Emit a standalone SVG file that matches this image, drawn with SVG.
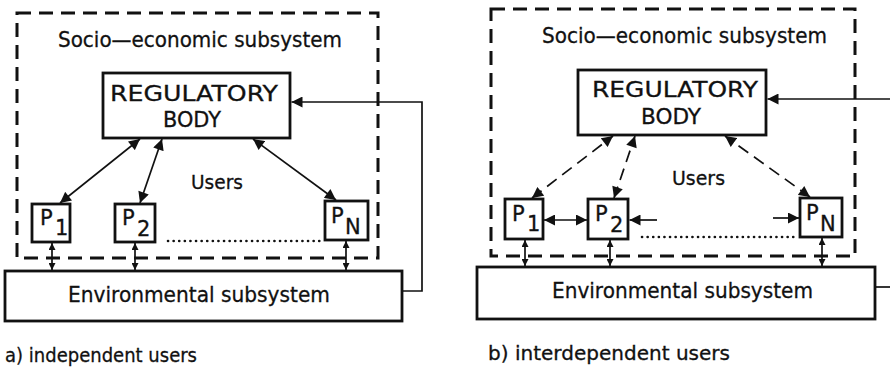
<svg xmlns="http://www.w3.org/2000/svg" width="890" height="368" viewBox="0 0 890 368">
<style>
text{font-family:"DejaVu Sans","Liberation Sans",Arial,sans-serif;fill:#111;stroke:#111;stroke-width:0.3}
.lbl{font-size:21px}
.p{font-size:21px}
.s{font-size:20px}
.box{fill:#fff;stroke:#111;stroke-width:2.8}
.dbox{fill:none;stroke:#111;stroke-width:3;stroke-dasharray:14 8}
.c{fill:none;stroke:#111;stroke-width:1.7}
.dash{stroke-dasharray:12 7}
.dot{fill:none;stroke:#111;stroke-width:2.6;stroke-dasharray:0.1 5.5;stroke-linecap:round}
</style>
<defs>
<marker id="ah" viewBox="0 0 10 10" refX="10" refY="5" markerWidth="12" markerHeight="11" markerUnits="userSpaceOnUse" orient="auto-start-reverse"><path d="M0,0 L10,5 L0,10 z" fill="#111"/></marker>
<marker id="sh" viewBox="0 0 10 10" refX="10" refY="5" markerWidth="7" markerHeight="7" markerUnits="userSpaceOnUse" orient="auto-start-reverse"><path d="M0,0 L10,5 L0,10 z" fill="#111"/></marker>
</defs>

<g id="panel-a">
<g id="a-socio"><rect class="dbox" x="17" y="13" width="361" height="245"/><text class="lbl" x="58" y="47" textLength="284" lengthAdjust="spacingAndGlyphs">Socio—economic subsystem</text></g>
<g id="a-reg"><rect class="box" x="103" y="73" width="187" height="65"/><text class="lbl" x="110" y="101" textLength="168" lengthAdjust="spacingAndGlyphs">REGULATORY</text><text class="lbl" x="163" y="127" textLength="58" lengthAdjust="spacingAndGlyphs">BODY</text></g>
<g id="a-users"><text class="s" x="191" y="189" textLength="52" lengthAdjust="spacingAndGlyphs">Users</text></g>
<g id="a-p1"><rect class="box" x="32" y="204" width="38" height="38"/><text class="p" x="40" y="225">P</text><text class="p" x="55" y="235">1</text></g>
<g id="a-p2"><rect class="box" x="115" y="204" width="40" height="38"/><text class="p" x="122" y="225">P</text><text class="p" x="137" y="236">2</text></g>
<g id="a-pn"><rect class="box" x="325" y="201" width="43" height="39"/><text class="p" x="331" y="223">P</text><text class="p" x="345" y="234">N</text></g>
<g id="a-env"><rect class="box" x="5" y="271" width="397" height="50"/><text class="lbl" x="68" y="302" textLength="262" lengthAdjust="spacingAndGlyphs">Environmental subsystem</text></g>
<g id="a-caption"><text class="s" x="5" y="362" textLength="192" lengthAdjust="spacingAndGlyphs">a) independent users</text></g>
</g>

<g id="panel-b">
<g id="b-socio"><rect class="dbox" x="491" y="9" width="364" height="247"/><text class="lbl" x="542" y="43" textLength="285" lengthAdjust="spacingAndGlyphs">Socio—economic subsystem</text></g>
<g id="b-reg"><rect class="box" x="578" y="70" width="188" height="65"/><text class="lbl" x="592" y="97" textLength="166" lengthAdjust="spacingAndGlyphs">REGULATORY</text><text class="lbl" x="641" y="124" textLength="60" lengthAdjust="spacingAndGlyphs">BODY</text></g>
<g id="b-users"><text class="s" x="672" y="185" textLength="53" lengthAdjust="spacingAndGlyphs">Users</text></g>
<g id="b-p1"><rect class="box" x="505" y="199" width="38" height="40"/><text class="p" x="512" y="221">P</text><text class="p" x="527" y="231">1</text></g>
<g id="b-p2"><rect class="box" x="588" y="199" width="40" height="40"/><text class="p" x="595" y="221">P</text><text class="p" x="610" y="232">2</text></g>
<g id="b-pn"><rect class="box" x="800" y="198" width="42" height="39"/><text class="p" x="806" y="220">P</text><text class="p" x="820" y="231">N</text></g>
<g id="b-env"><rect class="box" x="477" y="267" width="398" height="52"/><text class="lbl" x="552" y="298" textLength="261" lengthAdjust="spacingAndGlyphs">Environmental subsystem</text></g>
<g id="b-caption"><text class="s" x="488" y="360" textLength="242" lengthAdjust="spacingAndGlyphs">b) interdependent users</text></g>
</g>

<g id="connectors">
<line class="c" x1="60" y1="203" x2="140" y2="139" marker-start="url(#ah)" marker-end="url(#ah)"/>
<line class="c" x1="140" y1="203" x2="162" y2="139" marker-start="url(#ah)" marker-end="url(#ah)"/>
<line class="c" x1="336" y1="200" x2="253" y2="139" marker-start="url(#ah)" marker-end="url(#ah)"/>
<line class="dot" x1="168" y1="241" x2="321" y2="241"/>
<line class="c" x1="52" y1="243" x2="52" y2="270" marker-start="url(#sh)" marker-end="url(#sh)"/>
<line class="c" x1="135" y1="243" x2="135" y2="270" marker-start="url(#sh)" marker-end="url(#sh)"/>
<line class="c" x1="346" y1="241" x2="346" y2="270" marker-start="url(#sh)" marker-end="url(#sh)"/>
<path class="c" d="M402,291 H422 V102 H291.5" marker-end="url(#ah)"/>

<line class="c dash" x1="532" y1="198" x2="613" y2="136" marker-start="url(#ah)" marker-end="url(#ah)"/>
<line class="c dash" x1="614" y1="198" x2="635" y2="136" marker-start="url(#ah)" marker-end="url(#ah)"/>
<line class="c dash" x1="810" y1="197" x2="725" y2="136" marker-start="url(#ah)" marker-end="url(#ah)"/>
<line class="c" x1="544" y1="220" x2="587" y2="220" marker-start="url(#ah)" marker-end="url(#ah)"/>
<line class="c" x1="657" y1="220" x2="629.5" y2="220" marker-end="url(#ah)"/>
<line class="c" x1="773" y1="218" x2="799" y2="218" marker-end="url(#ah)"/>
<line class="dot" x1="642" y1="237" x2="797" y2="237"/>
<line class="c" x1="525" y1="240" x2="525" y2="266" marker-start="url(#sh)" marker-end="url(#sh)"/>
<line class="c" x1="610" y1="240" x2="610" y2="266" marker-start="url(#sh)" marker-end="url(#sh)"/>
<line class="c" x1="822" y1="238" x2="822" y2="266" marker-start="url(#sh)" marker-end="url(#sh)"/>
<path class="c" d="M875,287 H890"/>
<path class="c" d="M890,99 H767.5" marker-end="url(#ah)"/>
</g>
</svg>
